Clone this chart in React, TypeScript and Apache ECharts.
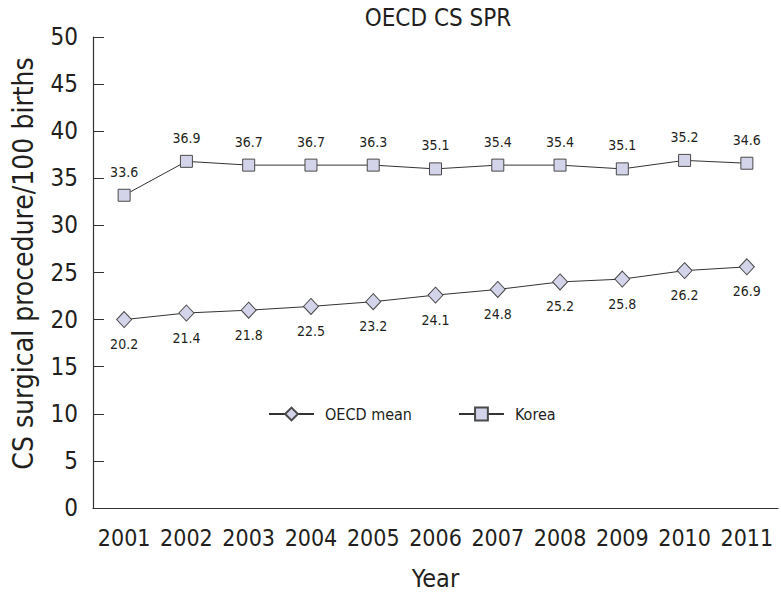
import React, { useEffect, useRef } from "react";
import * as echarts from "echarts";

const years = ["2001", "2002", "2003", "2004", "2005", "2006", "2007", "2008", "2009", "2010", "2011"];
// plotted positions
const oecdValues = [20.0, 20.7, 21.0, 21.4, 21.9, 22.6, 23.2, 24.0, 24.3, 25.2, 25.6];
const koreaValues = [33.2, 36.8, 36.4, 36.4, 36.4, 36.0, 36.4, 36.4, 36.0, 36.9, 36.6];
// printed data labels
const oecdLabels = ["20.2", "21.4", "21.8", "22.5", "23.2", "24.1", "24.8", "25.2", "25.8", "26.2", "26.9"];
const koreaLabels = ["33.6", "36.9", "36.7", "36.7", "36.3", "35.1", "35.4", "35.4", "35.1", "35.2", "34.6"];
const yTicks = { min: 0, max: 50, interval: 5 };

const FONT = "'DejaVu Sans Condensed', 'Liberation Sans Narrow', sans-serif";
const TEXT = "#231f20";
const FILL = "#d3d3ea";
const EDGE = "#4a4a4a";

export default function App() {
  const ref = useRef<HTMLDivElement>(null);
  useEffect(() => {
    if (!ref.current) return;
    const chart = echarts.init(ref.current, undefined, { renderer: "svg" });
    chart.setOption({
      animation: false,
      backgroundColor: "#ffffff",
      textStyle: { fontFamily: FONT, color: TEXT },
      title: {
        text: "OECD CS SPR",
        left: 433,
        textAlign: "center",
        top: 1,
        textStyle: { fontFamily: FONT, fontSize: 24, fontWeight: "normal", color: TEXT },
      },
      grid: { left: 93, right: 3, top: 37, bottom: 84, containLabel: false, outerBoundsMode: "none" },
      legend: {
        left: 263,
        top: 401,
        itemWidth: 45,
        itemHeight: 16,
        itemGap: 46,
        textStyle: { fontFamily: FONT, fontSize: 16, color: TEXT, padding: [0, 0, 0, 6] },
        data: ["OECD mean", "Korea"],
      },
      xAxis: {
        type: "category",
        data: years,
        boundaryGap: true,
        name: "Year",
        nameLocation: "middle",
        nameGap: 58,
        nameTextStyle: { fontFamily: FONT, fontSize: 25, color: TEXT },
        axisLine: { lineStyle: { color: "#333", width: 1.2 } },
        axisTick: { inside: true, length: 10, alignWithLabel: false, interval: 0, lineStyle: { color: "#333" } },
        axisLabel: { fontFamily: FONT, fontSize: 23, color: TEXT, margin: 18, interval: 0 },
        splitLine: { show: false },
      },
      yAxis: {
        type: "value",
        min: yTicks.min,
        max: yTicks.max,
        interval: yTicks.interval,
        name: "CS surgical procedure/100 births",
        nameLocation: "middle",
        nameGap: 56,
        nameTextStyle: { fontFamily: FONT, fontSize: 28, color: TEXT, padding: [0, 0, 0, 18] },
        axisLine: { show: true, lineStyle: { color: "#333", width: 1.2 } },
        axisTick: { show: true, inside: true, length: 11, lineStyle: { color: "#333" } },
        axisLabel: { fontFamily: FONT, fontSize: 24, color: TEXT, margin: 15 },
        splitLine: { show: false },
      },
      series: [
        {
          name: "OECD mean",
          type: "line",
          data: oecdValues,
          symbol: "diamond",
          symbolSize: [15, 16],
          lineStyle: { color: "#333", width: 1 },
          itemStyle: { color: FILL, borderColor: EDGE, borderWidth: 1 },
          label: {
            show: true,
            position: "bottom",
            distance: 9,
            fontFamily: FONT,
            fontSize: 14,
            color: TEXT,
            formatter: (p: any) => oecdLabels[p.dataIndex],
          },
        },
        {
          name: "Korea",
          type: "line",
          data: koreaValues,
          symbol: "rect",
          symbolSize: 12,
          lineStyle: { color: "#333", width: 1 },
          itemStyle: { color: FILL, borderColor: EDGE, borderWidth: 1 },
          label: {
            show: true,
            position: "top",
            distance: 10,
            fontFamily: FONT,
            fontSize: 14,
            color: TEXT,
            formatter: (p: any) => koreaLabels[p.dataIndex],
          },
        },
      ],
    });
    return () => chart.dispose();
  }, []);
  return <div ref={ref} style={{ width: 781, height: 592, position: "absolute", left: 0, top: 0 }} />;
}
